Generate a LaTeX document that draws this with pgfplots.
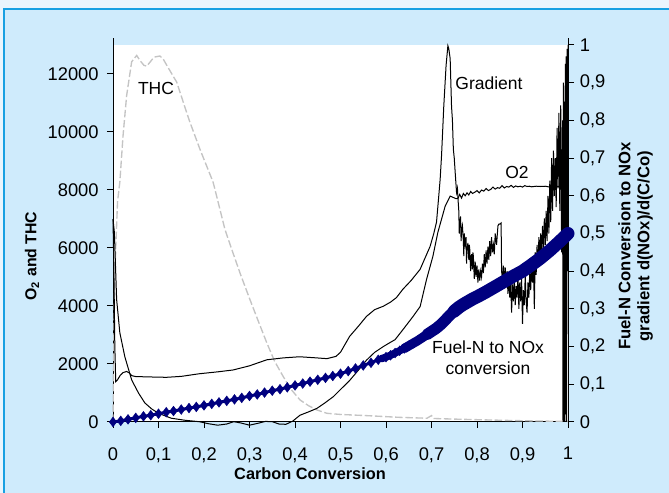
\documentclass[border=0pt]{standalone}
\usepackage{fontspec}
\setmainfont{Liberation Sans}
\usepackage{pgfplots}
\pgfplotsset{compat=1.18}
\definecolor{bgblue}{HTML}{CFEBFC}
\definecolor{bglight}{HTML}{EAF5FD}
\definecolor{bordblue}{HTML}{18A0E2}
\definecolor{navyN}{HTML}{00007F}
\definecolor{thcgray}{HTML}{C4C4C4}
\begin{document}
\begin{tikzpicture}
\fill[bglight] (0,0) rectangle (401.4pt,295.8pt);
\fill[bgblue] (2.4pt,0) rectangle (401.4pt,290.4pt);
\draw[bordblue, line width=1.2pt] (2.4pt,0) -- (2.4pt,290.4pt) -- (401.4pt,290.4pt);
\fill[white] (67.8pt,42.6pt) rectangle (340.8pt,268.8pt);

\begin{axis}[
  scale only axis, width=273pt, height=230.55pt,
  at={(67.8pt,42.6pt)}, anchor=south west,
  xmin=0, xmax=1, ymin=0, ymax=13250,
  axis x line*=bottom, axis y line*=left,
  axis line style={-, black, line width=0.6pt},
  tick align=outside, major tick length=3.6pt,
  tick style={black, line width=0.6pt},
  scaled y ticks=false, scaled x ticks=false,
  xtick={0,0.1,0.2,0.3,0.4,0.5,0.6,0.7,0.8,0.9,1},
  xticklabels={0,{0,1},{0,2},{0,3},{0,4},{0,5},{0,6},{0,7},{0,8},{0,9},1},
  ytick={0,2000,4000,6000,8000,10000,12000},
  yticklabels={0,2000,4000,6000,8000,10000,12000},
  ticklabel style={font=\fontsize{11}{13}\selectfont},
  xticklabel style={yshift=-8pt},
  yticklabel style={xshift=-1.5pt},
  clip=false,
]
% THC
\addplot[thcgray, line width=0.8pt, dash pattern=on 4.5pt off 1.6pt] coordinates {
(0,0) (0.001,2000) (0.003,4000) (0.006,6000) (0.010,7600) (0.015,8270)
(0.022,9860) (0.030,11260) (0.041,12420) (0.052,12640) (0.060,12450)
(0.068,12300) (0.074,12270) (0.082,12420) (0.090,12580) (0.103,12620)
(0.110,12525) (0.12,12250) (0.14,11720) (0.155,11000) (0.169,10340)
(0.191,9410) (0.22,8270) (0.246,6640) (0.261,5950) (0.28,5100)
(0.301,4220) (0.32,3450) (0.338,2730) (0.355,2100) (0.374,1570)
(0.39,1150) (0.411,760) (0.43,560) (0.448,415) (0.47,300) (0.5,260)
(0.557,220) (0.63,160) (0.69,130) (0.70,220) (0.705,120) (0.75,100)
(0.8,80) (0.88,50) (0.95,30) (1.0,20)
};
% O2
\addplot[black, line width=0.6pt] coordinates {
(0,7000) (0.003,6540) (0.008,4220) (0.015,3080) (0.026,2250) (0.041,1450)
(0.056,1000) (0.07,657) (0.085,450) (0.1,300) (0.128,130) (0.158,60)
(0.19,10) (0.21,-60) (0.23,-110) (0.25,-70) (0.265,10) (0.28,-30)
(0.30,-110) (0.32,-40) (0.335,20) (0.35,10) (0.365,-70) (0.38,-80)
(0.395,30) (0.411,234) (0.43,350) (0.448,468) (0.465,650) (0.484,871)
(0.5,1120) (0.52,1430) (0.54,1800) (0.557,2130) (0.575,2400) (0.594,2600)
(0.61,2750) (0.62,2840) (0.637,3180) (0.659,3630) (0.675,3980) (0.689,4910)
(0.703,5710) (0.714,6540) (0.722,6990) (0.73,7440) (0.741,7790) (0.754,7700)
(0.758,7700) (0.762,7850) (0.766,7720) (0.770,7880) (0.774,7800) (0.778,7900)
(0.782,7830) (0.786,7950) (0.790,7880) (0.795,7920) (0.80,7980) (0.805,7900)
(0.81,8000) (0.815,7960) (0.82,8050) (0.825,7980) (0.83,8020) (0.835,8100)
(0.84,8030) (0.845,8080) (0.85,8060) (0.855,8150) (0.86,8070) (0.865,8120)
(0.87,8100) (0.875,8160) (0.88,8090) (0.885,8140) (0.89,8110) (0.895,8130)
(0.9,8100) (0.905,8150) (0.91,8120) (0.915,8130) (0.92,8110) (0.93,8130)
(0.94,8120) (0.95,8130) (0.96,8100) (0.97,8140) (0.98,8120) (0.99,8150) (1.0,8130)
};
\end{axis}

\begin{axis}[
  scale only axis, width=273pt, height=230.55pt,
  at={(67.8pt,42.6pt)}, anchor=south west,
  xmin=0, xmax=1, ymin=0, ymax=1.019231,
  axis x line=none, axis y line*=right,
  axis line style={-, black, line width=0.6pt},
  tick align=outside, major tick length=3.6pt,
  tick style={black, line width=0.6pt},
  scaled y ticks=false,
  ytick={0,0.1,0.2,0.3,0.4,0.5,0.6,0.7,0.8,0.9,1},
  yticklabels={0,{0,1},{0,2},{0,3},{0,4},{0,5},{0,6},{0,7},{0,8},{0,9},1},
  ticklabel style={font=\fontsize{11}{13}\selectfont},
  clip=false,
]
% Gradient
\addplot[black, line width=0.6pt] coordinates {
(0,0.538) (0.002,0.40) (0.004,0.20) (0.006,0.107) (0.010,0.112) (0.016,0.124)
(0.022,0.131) (0.030,0.134) (0.036,0.130) (0.041,0.123) (0.05,0.1205)
(0.08,0.1195) (0.117,0.1185) (0.15,0.121) (0.19,0.128) (0.23,0.133)
(0.264,0.138) (0.30,0.149) (0.338,0.165) (0.374,0.170) (0.41,0.173)
(0.448,0.170) (0.47,0.168) (0.49,0.174) (0.50,0.185) (0.52,0.227)
(0.54,0.255) (0.557,0.280) (0.575,0.298) (0.594,0.307) (0.61,0.318)
(0.623,0.330) (0.637,0.352) (0.655,0.375) (0.675,0.405) (0.697,0.466)
(0.705,0.50) (0.711,0.53) (0.716,0.60) (0.719,0.644) (0.722,0.705)
(0.727,0.838) (0.732,0.945) (0.736,0.998) (0.738,0.99) (0.741,0.964)
(0.744,0.838) (0.746,0.80) (0.748,0.724) (0.750,0.70) (0.752,0.663)
(0.755,0.609) (0.757,0.62) (0.758,0.596)
(0.760,0.560) (0.761,0.500) (0.762,0.530) (0.764,0.545) (0.765,0.480) (0.766,0.505) (0.768,0.520)
(0.770,0.480) (0.771,0.440) (0.772,0.500) (0.774,0.470) (0.776,0.490) (0.777,0.420) (0.778,0.455)
(0.780,0.475) (0.782,0.430) (0.783,0.470) (0.784,0.460) (0.786,0.400) (0.788,0.445)
(0.790,0.405) (0.791,0.450) (0.792,0.440) (0.794,0.380) (0.796,0.425) (0.798,0.385)
(0.800,0.415) (0.802,0.370) (0.804,0.405) (0.806,0.375) (0.808,0.400)
(0.810,0.385) (0.812,0.420) (0.814,0.395) (0.816,0.445) (0.818,0.410)
(0.820,0.455) (0.822,0.420) (0.824,0.465) (0.826,0.430) (0.828,0.480)
(0.830,0.440) (0.832,0.490) (0.834,0.450) (0.836,0.470) (0.838,0.445)
(0.840,0.500) (0.843,0.470) (0.846,0.520) (0.848,0.525) (0.850,0.525)
(0.853,0.528) (0.854,0.400) (0.856,0.380) (0.858,0.415) (0.860,0.370)
(0.862,0.410) (0.864,0.360) (0.866,0.400) (0.868,0.340) (0.870,0.390)
(0.872,0.330) (0.874,0.375) (0.876,0.290) (0.878,0.365) (0.880,0.320)
(0.882,0.380) (0.884,0.310) (0.886,0.360) (0.888,0.330) (0.890,0.395)
(0.892,0.300) (0.894,0.370) (0.896,0.320) (0.898,0.380) (0.900,0.260)
(0.902,0.350) (0.904,0.310) (0.906,0.390) (0.908,0.320) (0.910,0.290)
(0.912,0.370) (0.914,0.330) (0.916,0.400) (0.918,0.350) (0.920,0.420)
(0.922,0.370) (0.924,0.430) (0.926,0.300) (0.928,0.450) (0.930,0.390)
(0.932,0.470) (0.934,0.410) (0.936,0.490) (0.938,0.430) (0.940,0.500)
(0.942,0.440) (0.944,0.520) (0.946,0.460) (0.948,0.540) (0.950,0.470)
(0.952,0.560) (0.954,0.480) (0.956,0.600) (0.958,0.500) (0.960,0.640)
(0.962,0.530) (0.964,0.700) (0.966,0.560) (0.968,0.720) (0.970,0.600)
(0.972,0.700) (0.974,0.570) (0.976,0.780) (0.978,0.620) (0.980,0.820)
(0.982,0.560) (0.984,0.840) (0.986,0.450) (0.988,0.800) (0.989,0.000)
(0.990,0.900) (0.991,0.000) (0.992,0.850) (0.993,0.000) (0.994,0.950)
(0.995,0.020) (0.996,0.970) (0.997,0.000) (0.998,0.990) (0.999,0.400)
(1.000,1.000)
};
% Fuel-N to NOx conversion: band, thickening with x
\addplot[navyN, line width=7.8pt, line join=round, line cap=round] coordinates {
(0.75,0.294) (0.76,0.304) (0.77,0.312) (0.78,0.319)
(0.79,0.326) (0.80,0.332) (0.82,0.345) (0.84,0.359) (0.86,0.373)
(0.88,0.387) (0.90,0.400) (0.92,0.417) (0.94,0.435) (0.96,0.455)
(0.98,0.477) (1.0,0.500)
};
\addplot[navyN, line width=6.8pt, line join=round, line cap=round] coordinates {
(0.69,0.232) (0.70,0.240) (0.71,0.248) (0.72,0.258) (0.73,0.270) (0.74,0.283) (0.75,0.294)
};
\addplot[navyN, line width=5.6pt, line join=round, line cap=round] coordinates {
(0.64,0.195) (0.65,0.202) (0.66,0.209) (0.67,0.216) (0.68,0.224) (0.69,0.232)
};
\addplot[navyN, line width=4.4pt, line join=round, line cap=round] coordinates {
(0.59,0.168) (0.60,0.172) (0.61,0.177) (0.62,0.183) (0.63,0.189) (0.64,0.195)
};
% Fuel-N to NOx conversion: diamonds
\addplot[navyN, line width=1.8pt, mark=diamond*, mark size=2.9pt,
  mark options={solid, fill=navyN, draw=navyN, line width=0.3pt}] coordinates {
(0,0) (0.017,0.003) (0.033,0.007) (0.05,0.011) (0.067,0.015) (0.083,0.018)
(0.1,0.022) (0.117,0.026) (0.133,0.029) (0.15,0.033) (0.167,0.037)
(0.183,0.040) (0.2,0.044) (0.217,0.048) (0.233,0.052) (0.25,0.056)
(0.267,0.060) (0.283,0.064) (0.3,0.069) (0.317,0.073) (0.333,0.078)
(0.35,0.083) (0.367,0.087) (0.383,0.092) (0.4,0.097) (0.417,0.102)
(0.433,0.107) (0.45,0.112) (0.467,0.117) (0.483,0.122) (0.5,0.128)
(0.517,0.135) (0.533,0.142) (0.55,0.150) (0.567,0.157) (0.583,0.165)
(0.6,0.172) (0.61,0.177) (0.62,0.183) (0.63,0.189) (0.64,0.195)
(0.65,0.202) (0.66,0.209) (0.67,0.216) (0.68,0.224) (0.69,0.232) (0.70,0.240)
};
\end{axis}

% annotations
\node[font=\fontsize{10.5}{12}\selectfont] at (93.6pt,243pt) {THC};
\node[font=\fontsize{10.5}{12}\selectfont] at (293.4pt,246pt) {Gradient};
\node[font=\fontsize{10.5}{12}\selectfont] at (310.2pt,192.6pt) {O2};
\node[font=\fontsize{10.5}{12}\selectfont] at (292.8pt,87.5pt) {Fuel-N to NOx};
\node[font=\fontsize{10.5}{12}\selectfont] at (292.8pt,75pt) {conversion};
% axis labels
\node[font=\bfseries\fontsize{9.8}{12}\selectfont] at (186pt,11.4pt) {Carbon Conversion};
\node[font=\bfseries\fontsize{9.5}{12}\selectfont, rotate=90] at (19.2pt,142.2pt) {O\textsubscript{2} and THC};
\node[font=\bfseries\fontsize{10}{11.4}\selectfont, rotate=90, align=center] at (381.3pt,148.2pt)
  {Fuel-N Conversion to NOx\\gradient d(NOx)/d(C/Co)};

\pgfresetboundingbox
\useasboundingbox (0,0) rectangle (401.4pt,295.8pt);
\end{tikzpicture}
\end{document}
